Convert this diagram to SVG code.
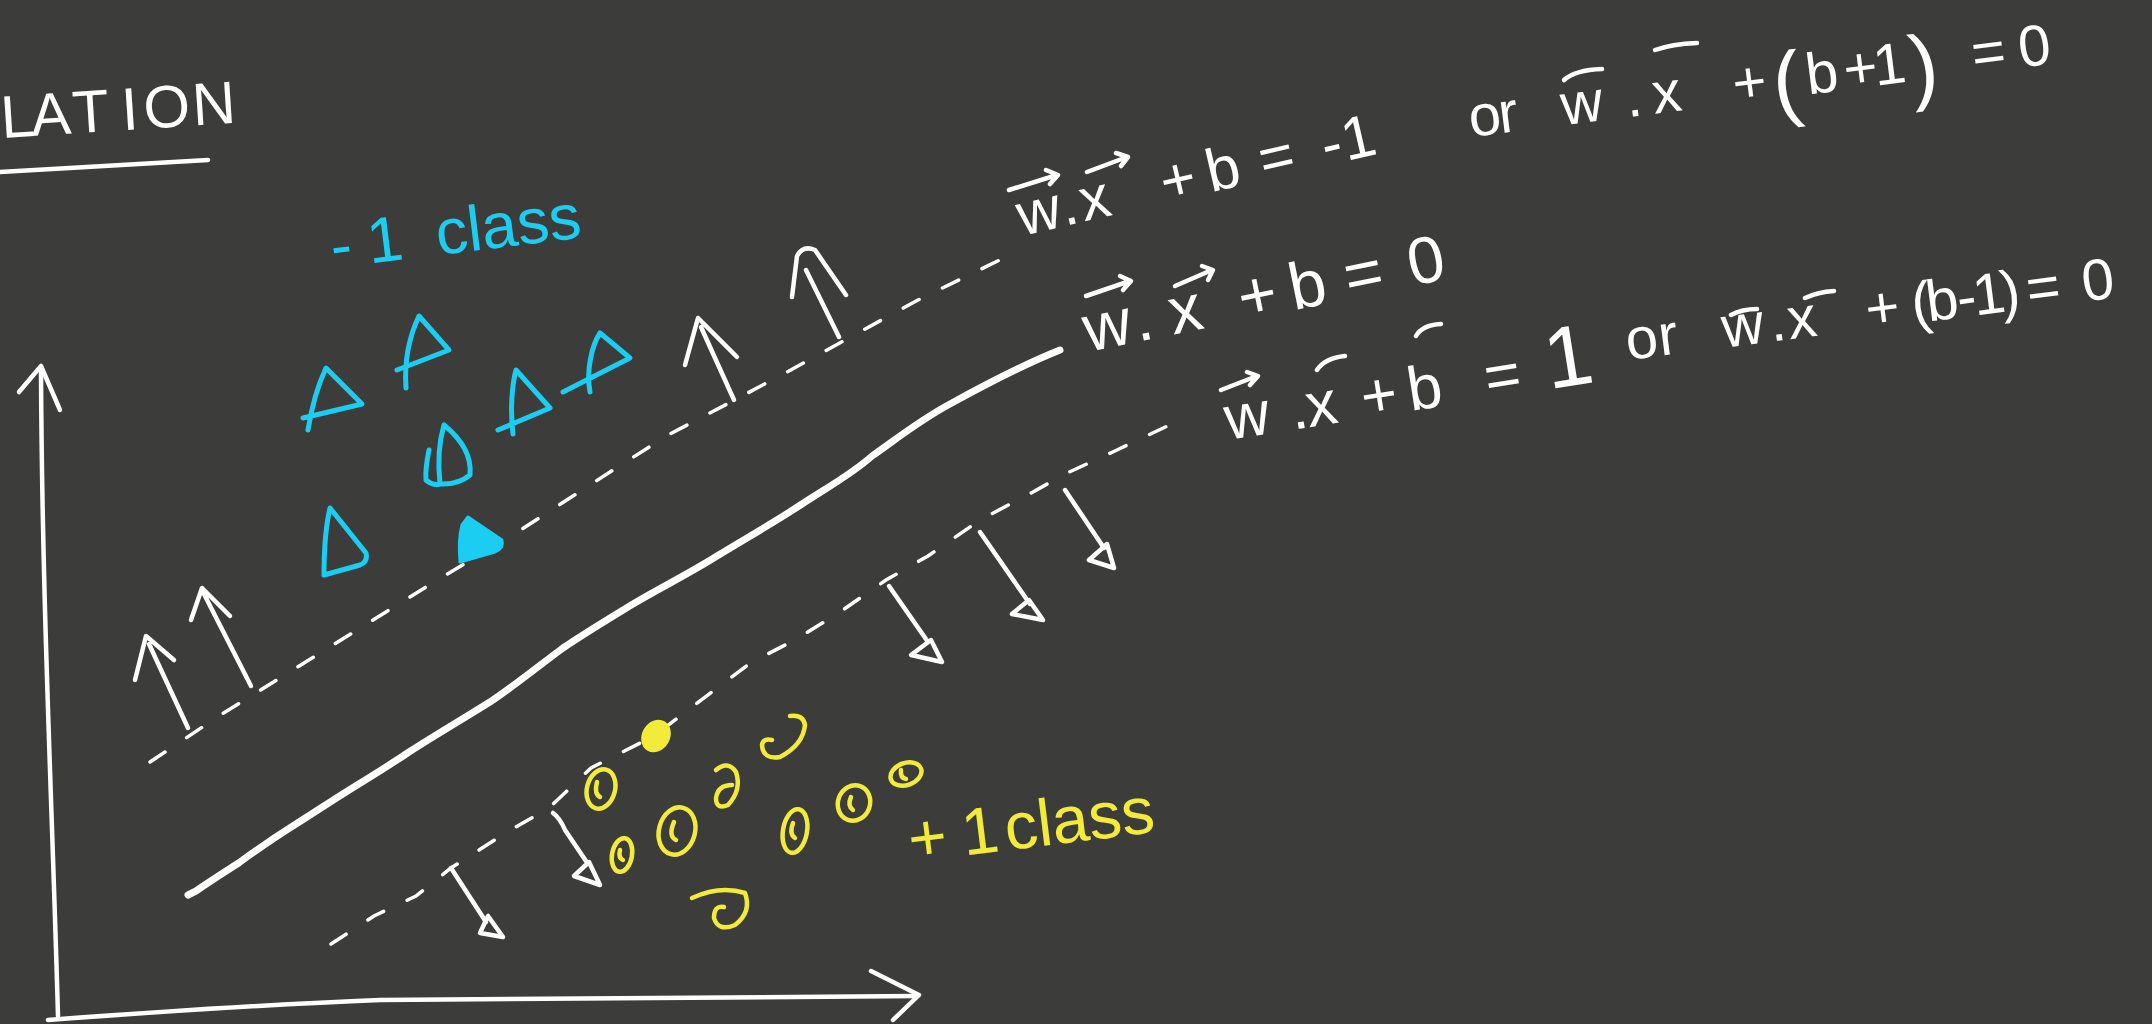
<svg xmlns="http://www.w3.org/2000/svg" width="2152" height="1024" viewBox="0 0 2152 1024">
<style>
.ink{fill:none;stroke-linecap:round;stroke-linejoin:round}
.wh{stroke:#ffffff;stroke-width:4.5}
.cy{stroke:#1ccdf2;stroke-width:5}
.ye{stroke:#f3eb3a;stroke-width:4.5}
.dash{fill:none;stroke:#ffffff;stroke-width:3.5;stroke-dasharray:18 26;stroke-linecap:round}
.t{font-family:"Liberation Sans",Arial,sans-serif;fill:#ffffff}
.tc{fill:#1ccdf2}
.ty{fill:#f3eb3a}
</style>
<rect width="2152" height="1024" fill="#3c3c3b"/>

<g id="title">
<text class="t" font-size="60" transform="translate(2 138) rotate(-3.7)" x="0 30 72 121 143 192" y="0">LATION</text>
<path class="ink wh" d="M0,172 L208,160"/>
</g>

<g id="axes">
<path class="ink wh" d="M58,1016 C52,800 42,600 41,370"/>
<path class="ink wh" d="M19,392 L41,366 L60,410"/>
<path class="ink wh" d="M48,1020 Q250,1005 380,1000 L917,996"/>
<path class="ink wh" d="M871,971 L919,995 L893,1020"/>
</g>

<g id="connectors">
<path id="hyperplane" class="ink" stroke="#ffffff" stroke-width="7" d="M188,895 Q192,893 196,891 C215,878 228,870 240,862 C262,846 280,834 296,824 C315,812 330,802 346,792 C370,777 390,765 409,752 C440,732 468,716 493,700 C518,683 540,665 563,648 C585,633 610,618 633,604 C660,588 690,573 717,556 C748,537 775,522 802,504 C828,487 852,474 872,456 C895,440 920,420 950,404 C990,382 1030,362 1060,350"/>
<path id="margin-neg" class="dash" d="M150,762 L222,714 L296,668 L349,635 L434,582 L519,531 L610,472 L668,435 L729,403 L787,372 L918,300 L1012,254"/>
<path id="margin-pos" class="dash" d="M331,944 L374,916 L416,896 L451,868 L507,832 L549,808 L591,768 L654,736 L717,688 L752,662 L795,640 L840,612 L886,580 L928,556 L980,520 L1033,492 L1065,474 L1117,450 L1180,420"/>
<g id="arrows-up" class="ink wh">
<path d="M188,728 L149,644 M135,680 L146,636 L174,660"/>
<path d="M251,686 L204,594 M191,620 L202,588 L230,616"/>
<path d="M734,400 L701,327 M685,365 L698,318 L737,357"/>
<path d="M839,337 L806,270 M792,297 L797,256 Q803,245 815,250 L846,295"/>
</g>
<g id="arrows-down" class="ink wh">
<path d="M451,868 L486,922 M488,916 L480,933 L503,937 Z"/>
<path d="M553,813 Q560,818 565,830 L588,864 M589,862 L574,876 L600,885 Z"/>
<path d="M889,586 L928,642 M931,640 L911,655 L942,662 Z"/>
<path d="M980,532 L1030,604 M1029,600 L1012,614 L1043,620 Z"/>
<path d="M1065,490 L1104,548 M1107,544 L1089,560 L1114,568 Z"/>
</g>
</g>

<g id="neg-class">
<text class="t tc" font-size="64" transform="translate(333 268) rotate(-7)" x="0 37 70 106" y="0">-1 class</text>
<g class="ink cy">
<path d="M308,430 C312,405 318,385 326,368 L362,404 L303,418"/>
<path d="M406,388 C404,360 410,335 419,316 L449,350 L397,370"/>
<path d="M513,434 C510,410 512,385 516,370 L550,408 L498,430"/>
<path d="M590,392 C586,370 592,345 600,333 L630,358 L563,392"/>
<path d="M444,425 C438,445 438,465 440,484 Q458,485 470,475 C472,455 460,438 444,425 M429,450 Q425,470 426,480 Q433,486 440,484"/>
<path d="M324,575 C324,550 326,525 330,508 L366,553 Q368,562 360,565 L324,575"/>
</g>
<path fill="#1ccdf2" stroke="#1ccdf2" stroke-width="3" stroke-linejoin="round" d="M468,517 L502,540 Q504,548 495,552 L460,562 Q458,540 462,525 Z"/>
</g>

<g id="pos-class">
<text class="t ty" font-size="66" transform="translate(911 862) rotate(-7)" x="0 54 80 97" y="0">+1 class</text>
<ellipse cx="656" cy="736" rx="14" ry="17" transform="rotate(30 656 736)" fill="#f3eb3a"/>
<g class="ink ye">
<ellipse cx="601" cy="789" rx="14" ry="20" transform="rotate(15 601 789)"/>
<path d="M597,782 Q594,794 600,797"/>
<ellipse cx="622" cy="855" rx="10" ry="17" transform="rotate(10 622 855)"/>
<path d="M620,850 Q618,858 623,860"/>
<ellipse cx="677" cy="831" rx="18" ry="24" transform="rotate(15 677 831)"/>
<path d="M674,822 Q668,836 676,840"/>
<path d="M716,770 Q728,760 736,772 Q742,790 728,805 Q716,810 716,798 Q718,785 732,785"/>
<path d="M790,716 Q803,714 805,725 Q803,745 780,757 Q763,760 762,745 Q763,738 772,740"/>
<ellipse cx="795" cy="831" rx="12" ry="22" transform="rotate(10 795 831)"/>
<path d="M793,823 Q789,834 795,838"/>
<ellipse cx="854" cy="803" rx="16" ry="18" transform="rotate(20 854 803)"/>
<path d="M851,797 Q847,806 853,810"/>
<ellipse cx="906" cy="774" rx="16" ry="11" transform="rotate(-20 906 774)"/>
<path d="M901,770 Q900,778 906,779"/>
<path d="M692,898 Q720,885 745,893 Q752,912 735,925 Q718,932 714,918 Q714,905 724,907"/>
</g>
</g>

<g id="equations">
<g id="eq-neg">
<text class="t" font-size="60" transform="translate(1022 236) rotate(-13)" x="0 44 64 147 194 248 312 333" y="0">w.x+b=-1</text>
<path class="ink wh" stroke-width="3.5" d="M1009,190 L1057,175 M1046,170 L1058,175 L1050,184 M1087,172 L1127,157 M1116,153 L1128,157 L1121,166"/>
<text class="t" font-size="58" transform="translate(1471 137) rotate(-7.2)" y="0"><tspan x="0">o</tspan><tspan x="30">r</tspan><tspan x="55"> </tspan><tspan x="93">w</tspan><tspan x="158">.</tspan><tspan x="185">x</tspan><tspan x="266">+</tspan><tspan x="306" dy="14" font-size="84">(</tspan><tspan x="340" dy="-14">b</tspan><tspan x="378">+</tspan><tspan x="408">1</tspan><tspan x="444" dy="14" font-size="84">)</tspan><tspan x="507" dy="-14">=</tspan><tspan x="554">0</tspan></text>
<path class="ink wh" stroke-width="3.5" d="M1564,80 Q1575,70 1602,69 M1655,50 Q1672,44 1697,43"/>
</g>
<g id="eq-zero">
<text class="t" font-size="66" transform="translate(1088 352) rotate(-11.5)" x="0 51 87 158 210 266 331" y="0">w.x+b=0</text>
<path class="ink wh" stroke-width="3.5" d="M1086,296 L1130,281 M1120,276 L1131,281 L1123,290 M1175,286 L1212,270 M1202,266 L1213,270 L1208,280"/>
</g>
<g id="eq-pos">
<text class="t" font-size="62" transform="translate(1228 440) rotate(-9)" y="0"><tspan x="0">w</tspan><tspan x="66">.</tspan><tspan x="82">x</tspan><tspan x="138">+</tspan><tspan x="185">b</tspan><tspan x="263">=</tspan><tspan x="325" font-size="86">1</tspan></text>
<text class="t" font-size="58" transform="translate(1628 360) rotate(-7.3)" y="0"><tspan x="0">o</tspan><tspan x="33">r</tspan><tspan x="58"> </tspan><tspan x="97">w</tspan><tspan x="145">.</tspan><tspan x="163">x</tspan><tspan x="242">+</tspan><tspan x="288">(</tspan><tspan x="303">b</tspan><tspan x="334">-</tspan><tspan x="350">1</tspan><tspan x="378">)</tspan><tspan x="404">=</tspan><tspan x="460">0</tspan></text>
<path class="ink wh" stroke-width="3.5" d="M1221,390 L1257,376 M1247,372 L1258,376 L1250,385 M1317,370 Q1325,358 1345,356 M1416,336 Q1422,325 1441,324 M1731,315 Q1742,309 1757,309 M1805,298 Q1818,292 1834,291"/>
</g>
</g>
</svg>
